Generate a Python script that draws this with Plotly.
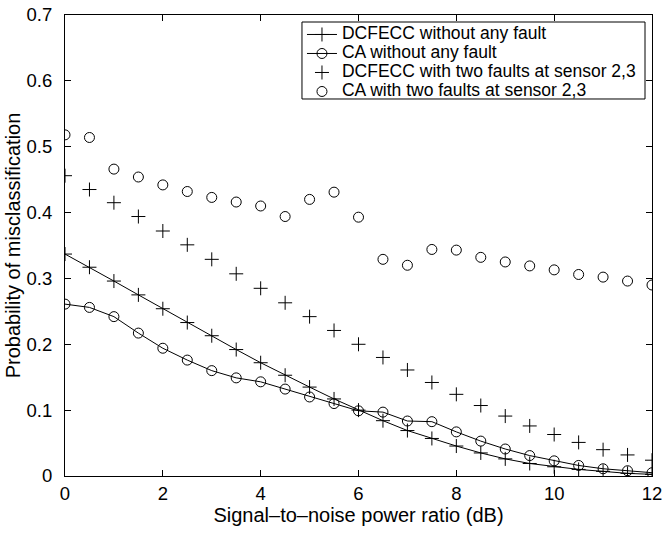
import plotly.graph_objects as go

snr = [0, 0.5, 1, 1.5, 2, 2.5, 3, 3.5, 4, 4.5, 5, 5.5, 6, 6.5, 7, 7.5, 8, 8.5, 9, 9.5, 10, 10.5, 11, 11.5, 12]

dcfecc_nofault = [0.337, 0.317, 0.296, 0.275, 0.254, 0.233, 0.213, 0.192, 0.172, 0.153, 0.135, 0.117,
                  0.100, 0.084, 0.069, 0.057, 0.0455, 0.035, 0.026, 0.019, 0.014, 0.010, 0.007, 0.004, 0.0025]
ca_nofault = [0.261, 0.256, 0.242, 0.217, 0.194, 0.176, 0.160, 0.149, 0.143, 0.132, 0.120, 0.110,
              0.099, 0.097, 0.0835, 0.0825, 0.067, 0.053, 0.041, 0.031, 0.023, 0.016, 0.011, 0.008, 0.005]
dcfecc_fault = [0.456, 0.435, 0.415, 0.394, 0.372, 0.351, 0.329, 0.307, 0.285, 0.263, 0.242, 0.221,
                0.200, 0.180, 0.161, 0.142, 0.124, 0.107, 0.091, 0.076, 0.063, 0.051, 0.040, 0.032, 0.024]
ca_fault = [0.518, 0.514, 0.466, 0.454, 0.442, 0.432, 0.423, 0.416, 0.410, 0.394, 0.420, 0.431,
            0.393, 0.329, 0.320, 0.344, 0.343, 0.332, 0.325, 0.319, 0.313, 0.306, 0.302, 0.296, 0.290]

names = ["DCFECC without any fault", "CA without any fault",
         "DCFECC with two faults at sensor 2,3", "CA with two faults at sensor 2,3"]

x_ticks = [0, 2, 4, 6, 8, 10, 12]
y_ticks = [0, 0.1, 0.2, 0.3, 0.4, 0.5, 0.6, 0.7]

FONT = "Liberation Sans, Arial, sans-serif"


def leg(name):
    return f'<span style="font-size:17.5px">{name}</span>'


fig = go.Figure()
fig.add_trace(go.Scatter(x=snr, y=dcfecc_nofault, name=leg(names[0]), mode="lines+markers",
                         line=dict(color="black", width=1),
                         marker=dict(symbol="cross-thin-open", size=10, color="black",
                                     line=dict(color="black", width=1))))
fig.add_trace(go.Scatter(x=snr, y=ca_nofault, name=leg(names[1]), mode="lines+markers",
                         line=dict(color="black", width=1),
                         marker=dict(symbol="circle-open", size=10, color="black",
                                     line=dict(color="black", width=1))))
fig.add_trace(go.Scatter(x=snr, y=dcfecc_fault, name=leg(names[2]), mode="markers",
                         marker=dict(symbol="cross-thin-open", size=10, color="black",
                                     line=dict(color="black", width=1))))
fig.add_trace(go.Scatter(x=snr, y=ca_fault, name=leg(names[3]), mode="markers",
                         marker=dict(symbol="circle-open", size=10, color="black",
                                     line=dict(color="black", width=1))))

axis_common = dict(showline=True, linecolor="black", linewidth=1, mirror="ticks",
                   ticks="inside", ticklen=6, tickcolor="black", showgrid=False, zeroline=False,
                   automargin=False,
                   tickfont=dict(family=FONT, size=18.5, color="black"))

# legend frame (paper coordinates)
LEG_X0, LEG_X1, LEG_Y0, LEG_Y1 = 0.4037, 0.9881, 0.8178, 0.9848

fig.update_layout(
    width=664, height=533,
    margin=dict(l=65, r=12, t=15, b=57),
    paper_bgcolor="white", plot_bgcolor="white",
    font=dict(family=FONT, color="black"),
    showlegend=True,
    legend=dict(x=LEG_X0, y=0.9892, xanchor="left", yanchor="top",
                bgcolor="rgba(0,0,0,0)", borderwidth=0,
                font=dict(family=FONT, size=11, color="black"),
                tracegroupgap=0, itemwidth=30),
    shapes=[dict(type="rect", xref="paper", yref="paper",
                 x0=LEG_X0, x1=LEG_X1, y0=LEG_Y0, y1=LEG_Y1,
                 line=dict(color="black", width=1), fillcolor="white", layer="above")],
    xaxis=dict(range=[0, 12], tickvals=x_ticks, ticktext=[str(v) for v in x_ticks],
               ticklabelstandoff=1,
               title=dict(text="Signal\u2013to\u2013noise power ratio (dB)",
                          font=dict(family=FONT, size=20, color="black"), standoff=4),
               **axis_common),
    yaxis=dict(range=[0, 0.7], tickvals=y_ticks, ticktext=["0"] + [f"{v:.1f}" for v in y_ticks[1:]],
               ticklabelstandoff=8,
               title=dict(text="Probability of misclassification",
                          font=dict(family=FONT, size=20, color="black"), standoff=0),
               **axis_common),
)

fig.write_html("out.html")
